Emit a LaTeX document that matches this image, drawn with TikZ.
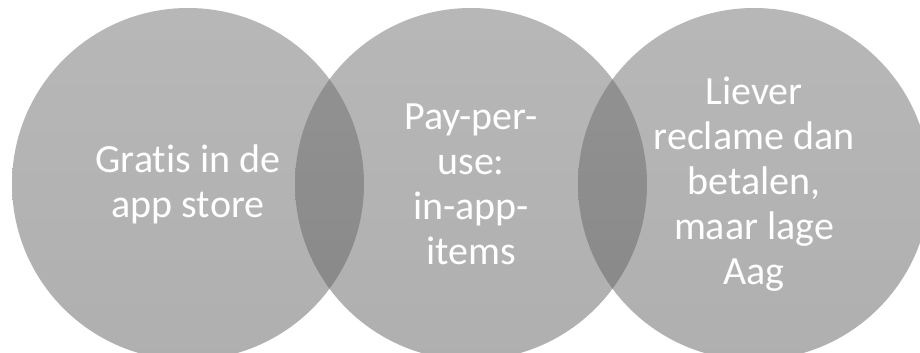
\documentclass[tikz,border=0pt]{standalone}
\usepackage{fontspec}
\setmainfont{Carlito}[Ligatures={NoCommon}]
\definecolor{ringtop}{RGB}{112,112,112}
\definecolor{ringbottom}{RGB}{96,96,96}
\tikzset{
  ring/.style={circle, minimum size=352pt, inner sep=0pt,
    top color=ringtop, bottom color=ringbottom, fill opacity=0.5, draw=none},
  ringtext/.style={text=white, align=center, font=\fontsize{40}{45}\selectfont}
}
\begin{document}
\begin{tikzpicture}[x=1pt, y=-1pt]
  \useasboundingbox (0,0) rectangle (920,353);
  % overlapping circles
  \node[ring] (gratis) at (188,184) {};
  \node[ring] (payuse) at (471,184) {};
  \node[ring] (reclame) at (754,184) {};

  % labels
  \node[ringtext] (gratistxt) at (gratis) {Gratis in de\\app store};
  \node[ringtext] (payusetxt) at (payuse) {Pay-per-\\use:\\in-app-\\items};
  \node[ringtext] (reclametxt) at (reclame) {Liever\\reclame dan\\betalen,\\maar lage\\Aag};
\end{tikzpicture}
\end{document}
